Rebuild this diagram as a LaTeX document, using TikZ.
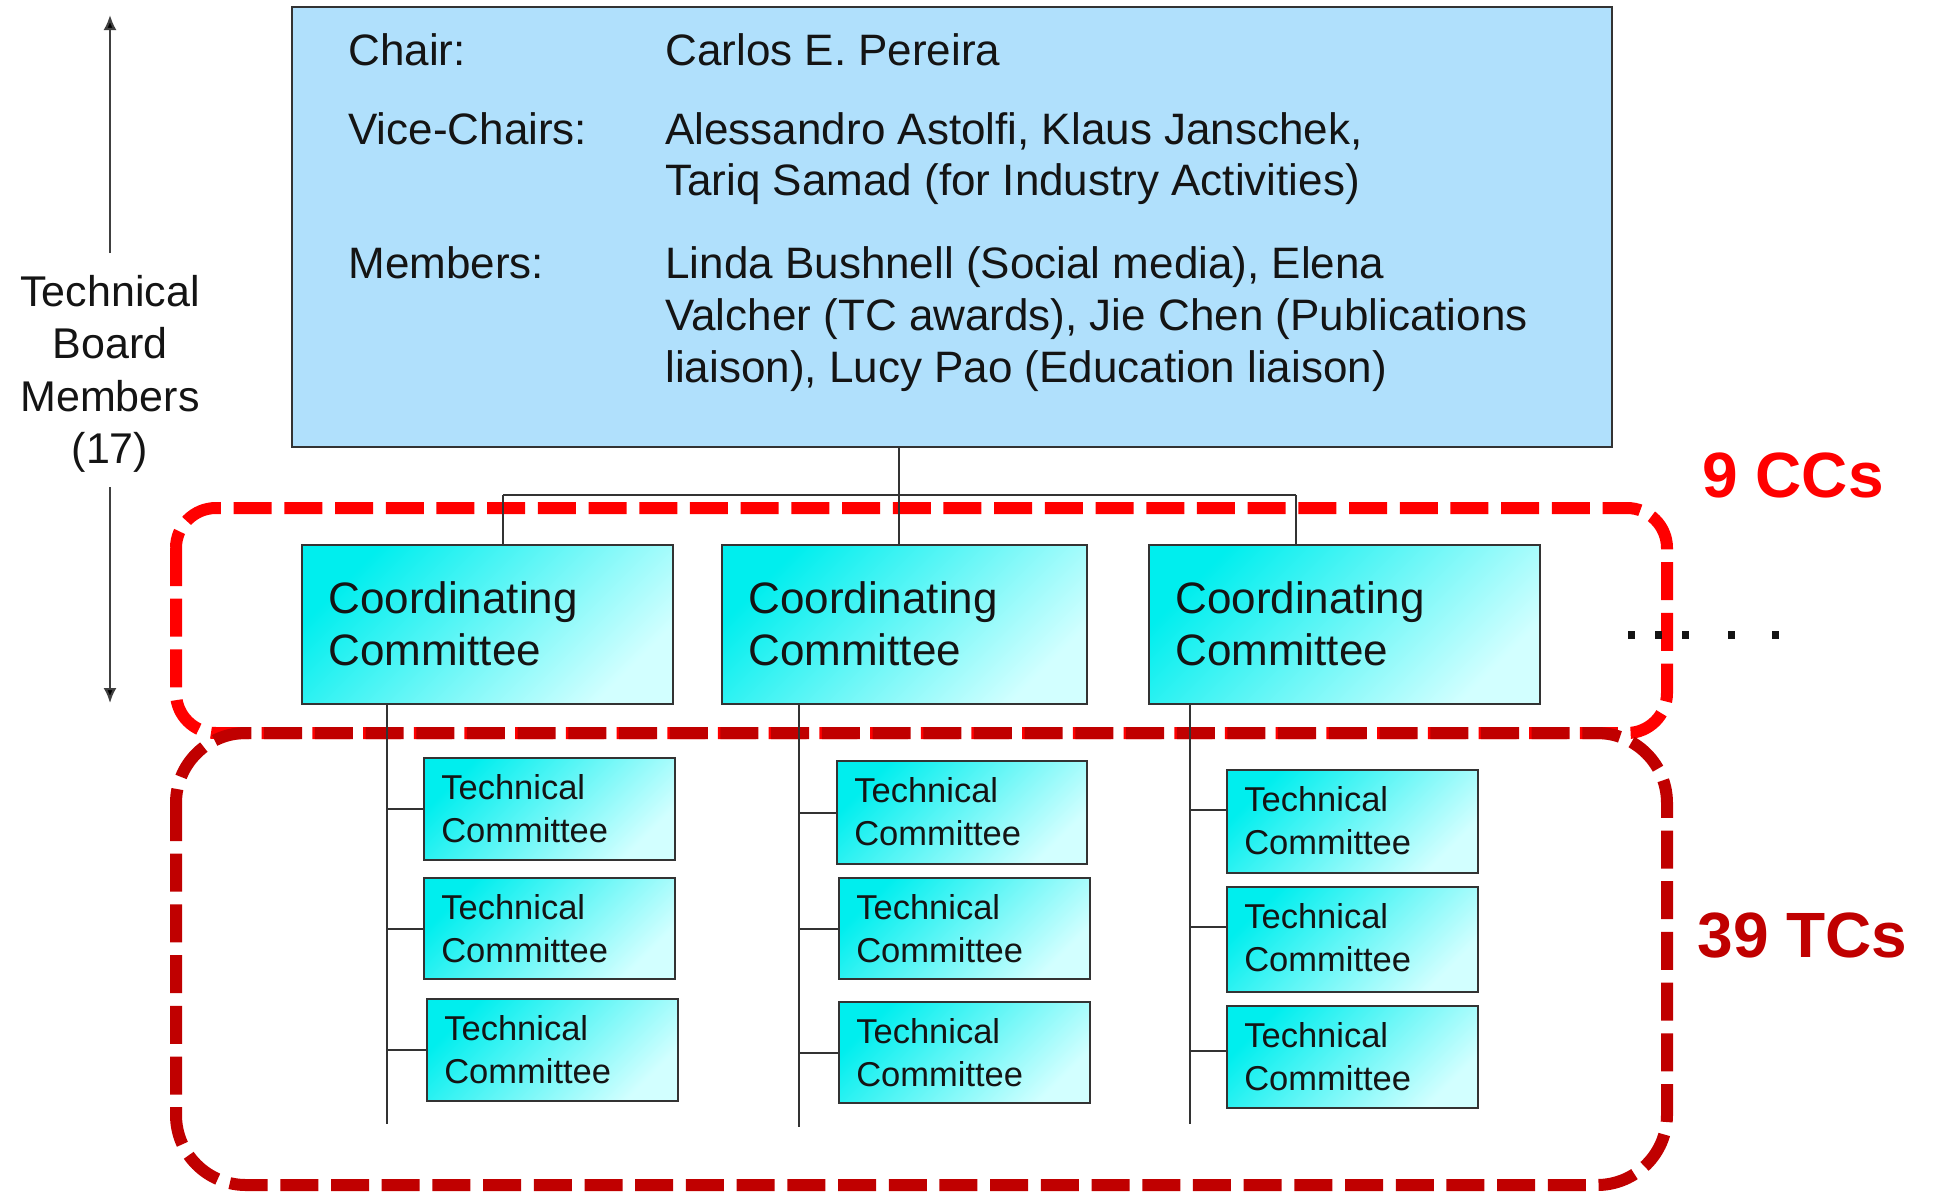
\documentclass[tikz,border=0pt]{standalone}
\usepackage{fontspec}
\setmainfont{Liberation Sans}
\usetikzlibrary{fit,arrows.meta,calc}
\definecolor{topblue}{RGB}{176,224,252}
\definecolor{cyanD}{RGB}{0,238,238}
\definecolor{cyanL}{RGB}{210,255,255}
\definecolor{redA}{RGB}{255,0,0}
\definecolor{redB}{RGB}{192,0,0}
\definecolor{ink}{RGB}{20,20,20}
\newcommand\mytc[3]{%
  \node[tcbox, fit={#2 #3}] (#1) {};
  \node[tclbl] (#1a) at ($(#1.north west)+(18,43)$) {Technical};
  \node[tclbl] (#1b) at ($(#1.north west)+(18,86)$) {Committee};}
\newcommand\mycc[3]{%
  \node[ccbox, fit={#2 #3}] (#1) {};
  \node[cclbl] (#1a) at ($(#1.north west)+(27,70)$) {Coordinating};
  \node[cclbl] (#1b) at ($(#1.north west)+(27,122)$) {Committee};}
\begin{document}
\begin{tikzpicture}[x=0.5pt,y=-0.5pt,
  boxline/.style={draw=black!80, line width=1.1pt, inner sep=0pt},
  grad/.style={top color=cyanD, bottom color=cyanL, shading angle=45},
  topbox/.style={boxline, fill=topblue},
  ccbox/.style={boxline, grad},
  tcbox/.style={boxline, grad},
  lbl/.style={anchor=base west, inner sep=0pt, text=ink, font=\fontsize{22pt}{26pt}\selectfont},
  cclbl/.style={lbl},
  tclbl/.style={anchor=base west, inner sep=0pt, text=ink, font=\fontsize{17.25pt}{20pt}\selectfont},
  sidelbl/.style={anchor=base, inner sep=0pt, text=ink, font=\fontsize{21.5pt}{26pt}\selectfont},
  conn/.style={draw=black!80, line width=1pt},
  sidearrow/.style={draw=black!75, line width=1.1pt, -{Latex[length=7.5pt,width=6.5pt,fill=black]}},
  ccframe/.style={draw=redA, line width=6pt, dash pattern=on 19pt off 6.35pt, rounded corners=20pt},
  tcframe/.style={draw=redB, line width=6pt, dash pattern=on 19pt off 6.35pt, rounded corners=35pt},
  count/.style={anchor=base west, inner sep=0pt, font=\fontsize{32pt}{36pt}\selectfont\bfseries}
]
\useasboundingbox (0,0) rectangle (1933,1191);

% top box
\node[topbox, fit={(292,7) (1612,447)}] (top) {};
\node[lbl] (chairL) at (348,65) {Chair:};
\node[lbl] (chairV) at (665,65) {Carlos E. Pereira};
\node[lbl] (viceL) at (348,144) {Vice-Chairs:};
\node[lbl] (viceV1) at (665,144) {Alessandro Astolfi, Klaus Janschek,};
\node[lbl] (viceV2) at (665,195) {Tariq Samad (for Industry Activities)};
\node[lbl] (memL) at (348,278) {Members:};
\node[lbl] (memV1) at (665,278) {Linda Bushnell (Social media), Elena};
\node[lbl] (memV2) at (665,330) {Valcher (TC awards), Jie Chen (Publications};
\node[lbl] (memV3) at (665,382) {liaison), Lucy Pao (Education liaison)};

% side label and arrows
\node[sidelbl] (tb1) at (110,306) {Technical};
\node[sidelbl] (tb2) at (110,358) {Board};
\node[sidelbl] (tb3) at (110,411) {Members};
\node[sidelbl] (tb4) at (110,463) {(17)};
\coordinate (tbTop) at (110,15);
\coordinate (tbA) at (110,253);
\coordinate (tbB) at (110,487);
\coordinate (tbBot) at (110,703);
\draw[sidearrow] (tbA) -- (tbTop);
\draw[sidearrow] (tbB) -- (tbBot);

% dashed frames
\draw[ccframe] (176,508) rectangle (1667,733);
\draw[tcframe] (176,733) rectangle (1667,1185);

% coordinating committees
\mycc{cc1}{(302,545)}{(673,704)}
\mycc{cc2}{(722,545)}{(1087,704)}
\mycc{cc3}{(1149,545)}{(1540,704)}

% connectors top -> CCs
\coordinate (b1) at (503,495);
\coordinate (b2) at (899,495);
\coordinate (b3) at (1296,495);
\draw[conn] (top.south -| b2) -- (b2);
\draw[conn] (b1) -- (b3);
\draw[conn] (b1) -- (b1 |- cc1.north);
\draw[conn] (b2) -- (b2 |- cc2.north);
\draw[conn] (b3) -- (b3 |- cc3.north);

% technical committees
\mytc{tc11}{(424,758)}{(675,860)}
\mytc{tc12}{(424,878)}{(675,979)}
\mytc{tc13}{(427,999)}{(678,1101)}
\mytc{tc21}{(837,761)}{(1087,864)}
\mytc{tc22}{(839,878)}{(1090,979)}
\mytc{tc23}{(839,1002)}{(1090,1103)}
\mytc{tc31}{(1227,770)}{(1478,873)}
\mytc{tc32}{(1227,887)}{(1478,992)}
\mytc{tc33}{(1227,1006)}{(1478,1108)}

% trunks
\coordinate (t1) at (387,1124);
\coordinate (t2) at (799,1127);
\coordinate (t3) at (1190,1124);
\draw[conn] (t1 |- cc1.south) -- (t1);
\draw[conn] (t2 |- cc2.south) -- (t2);
\draw[conn] (t3 |- cc3.south) -- (t3);
\draw[conn] (t1 |- tc11.west) -- (tc11.west);
\draw[conn] (t1 |- tc12.west) -- (tc12.west);
\draw[conn] (t1 |- tc13.west) -- (tc13.west);
\draw[conn] (t2 |- tc21.west) -- (tc21.west);
\draw[conn] (t2 |- tc22.west) -- (tc22.west);
\draw[conn] (t2 |- tc23.west) -- (tc23.west);
\coordinate (k31) at (1190,810);
\coordinate (k32) at (1190,927);
\coordinate (k33) at (1190,1051);
\draw[conn] (k31) -- (k31 -| tc31.west);
\draw[conn] (k32) -- (k32 -| tc32.west);
\draw[conn] (k33) -- (k33 -| tc33.west);

% continuation dots
\foreach \dx in {1631,1658,1685,1731,1775}
  \fill[ink] (\dx-3.5,631) rectangle (\dx+3.5,639);

% counts
\node[count, text=redA] (ccs) at (1702,497) {9 CCs};
\node[count, text=redB] (tcs) at (1697,957) {39 TCs};
\end{tikzpicture}
\end{document}
